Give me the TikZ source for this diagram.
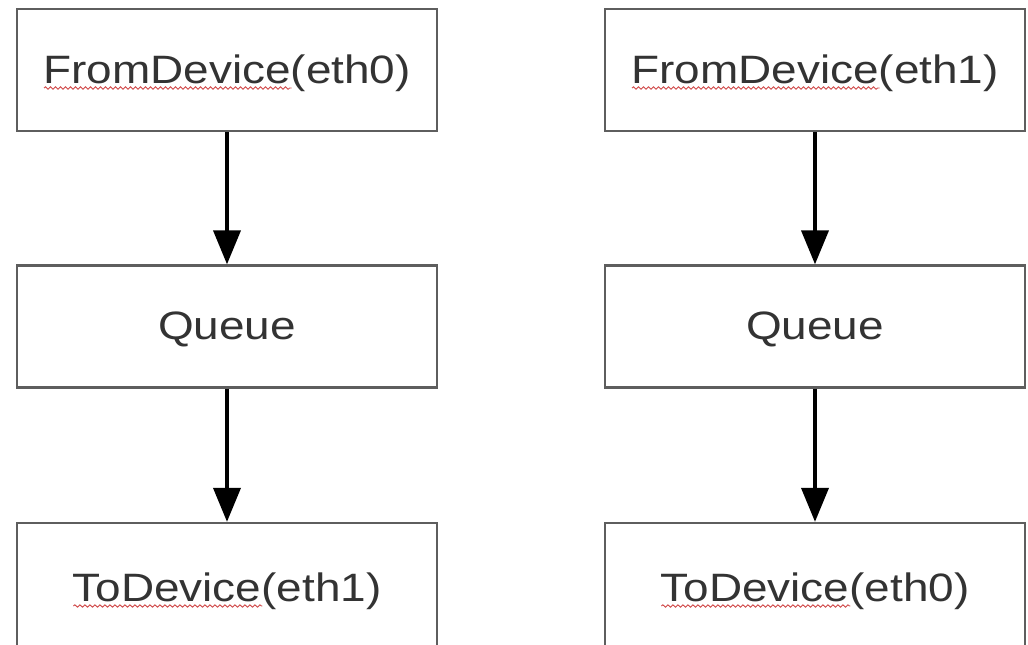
\documentclass[tikz,border=0pt]{standalone}
\usepackage{fontspec}
\setmainfont{Liberation Sans}
\usetikzlibrary{arrows.meta,decorations.pathmorphing,calc}

\definecolor{boxline}{HTML}{5E5E5E}
\definecolor{labeltext}{HTML}{333333}
\definecolor{spellred}{HTML}{D04848}

\newcommand{\labelfont}{\fontsize{39.6}{44}\selectfont}
% labels are set slightly wide
\newcommand{\widelabel}[1]{\scalebox{1.16}[1]{#1}}
\newlength{\fromw}
\newlength{\tow}

\begin{document}
% widths of the words the spell checker flags
\settowidth{\fromw}{\labelfont FromDevice}%
\settowidth{\tow}{\labelfont ToDevice}%
\begin{tikzpicture}[x=1pt,y=-1pt,
  block/.style={draw=boxline,line width=2.3pt,fill=white,
    minimum width=420pt,minimum height=122pt,inner sep=0pt},
  lowblock/.style={block,minimum height=130pt},
  blocktext/.style={inner sep=0pt,text=labeltext,font=\labelfont,
    text height=28pt,text depth=2pt},
  spell/.style={draw=spellred,line width=0.9pt,
    decorate,decoration={snake,segment length=5pt,amplitude=1.2pt}},
  flow/.style={line width=3.8pt,draw=black,
    -{Triangle[length=34pt 0,width=27pt 0]}}]

  \useasboundingbox (0,0) rectangle (1028,645);
  \clip (0,0) rectangle (1028,645);

  % first chain: eth0 -> eth1
  \node[block]    (fromA)  at (227,70)    {};
  \node[block]    (queueA) at (227,326.5) {};
  \node[lowblock] (toA)    at (227,588)   {};
  \node[blocktext] (fromAt)  at (fromA.center)  {\widelabel{FromDevice(eth0)}};
  \node[blocktext] (queueAt) at (queueA.center) {\widelabel{Queue}};
  \node[blocktext] (toAt)    at (toA.center)    {\widelabel{ToDevice(eth1)}};

  % second chain: eth1 -> eth0
  \node[block]    (fromB)  at (815,70)    {};
  \node[block]    (queueB) at (815,326.5) {};
  \node[lowblock] (toB)    at (815,588)   {};
  \node[blocktext] (fromBt)  at (fromB.center)  {\widelabel{FromDevice(eth1)}};
  \node[blocktext] (queueBt) at (queueB.center) {\widelabel{Queue}};
  \node[blocktext] (toBt)    at (toB.center)    {\widelabel{ToDevice(eth0)}};

  % wavy underlines
  \coordinate (sqFromA) at ($(fromAt.base west)+(1,5)$);
  \coordinate (sqToA)   at ($(toAt.base west)+(1,5)$);
  \coordinate (sqFromB) at ($(fromBt.base west)+(1,5)$);
  \coordinate (sqToB)   at ($(toBt.base west)+(1,5)$);
  \draw[spell] (sqFromA) -- ++(1.16\fromw,0pt);
  \draw[spell] (sqToA)   -- ++(1.16\tow,0pt);
  \draw[spell] (sqFromB) -- ++(1.16\fromw,0pt);
  \draw[spell] (sqToB)   -- ++(1.16\tow,0pt);

  \draw[flow] (fromA)  -- (queueA);
  \draw[flow] (queueA) -- (toA);
  \draw[flow] (fromB)  -- (queueB);
  \draw[flow] (queueB) -- (toB);
\end{tikzpicture}
\end{document}
